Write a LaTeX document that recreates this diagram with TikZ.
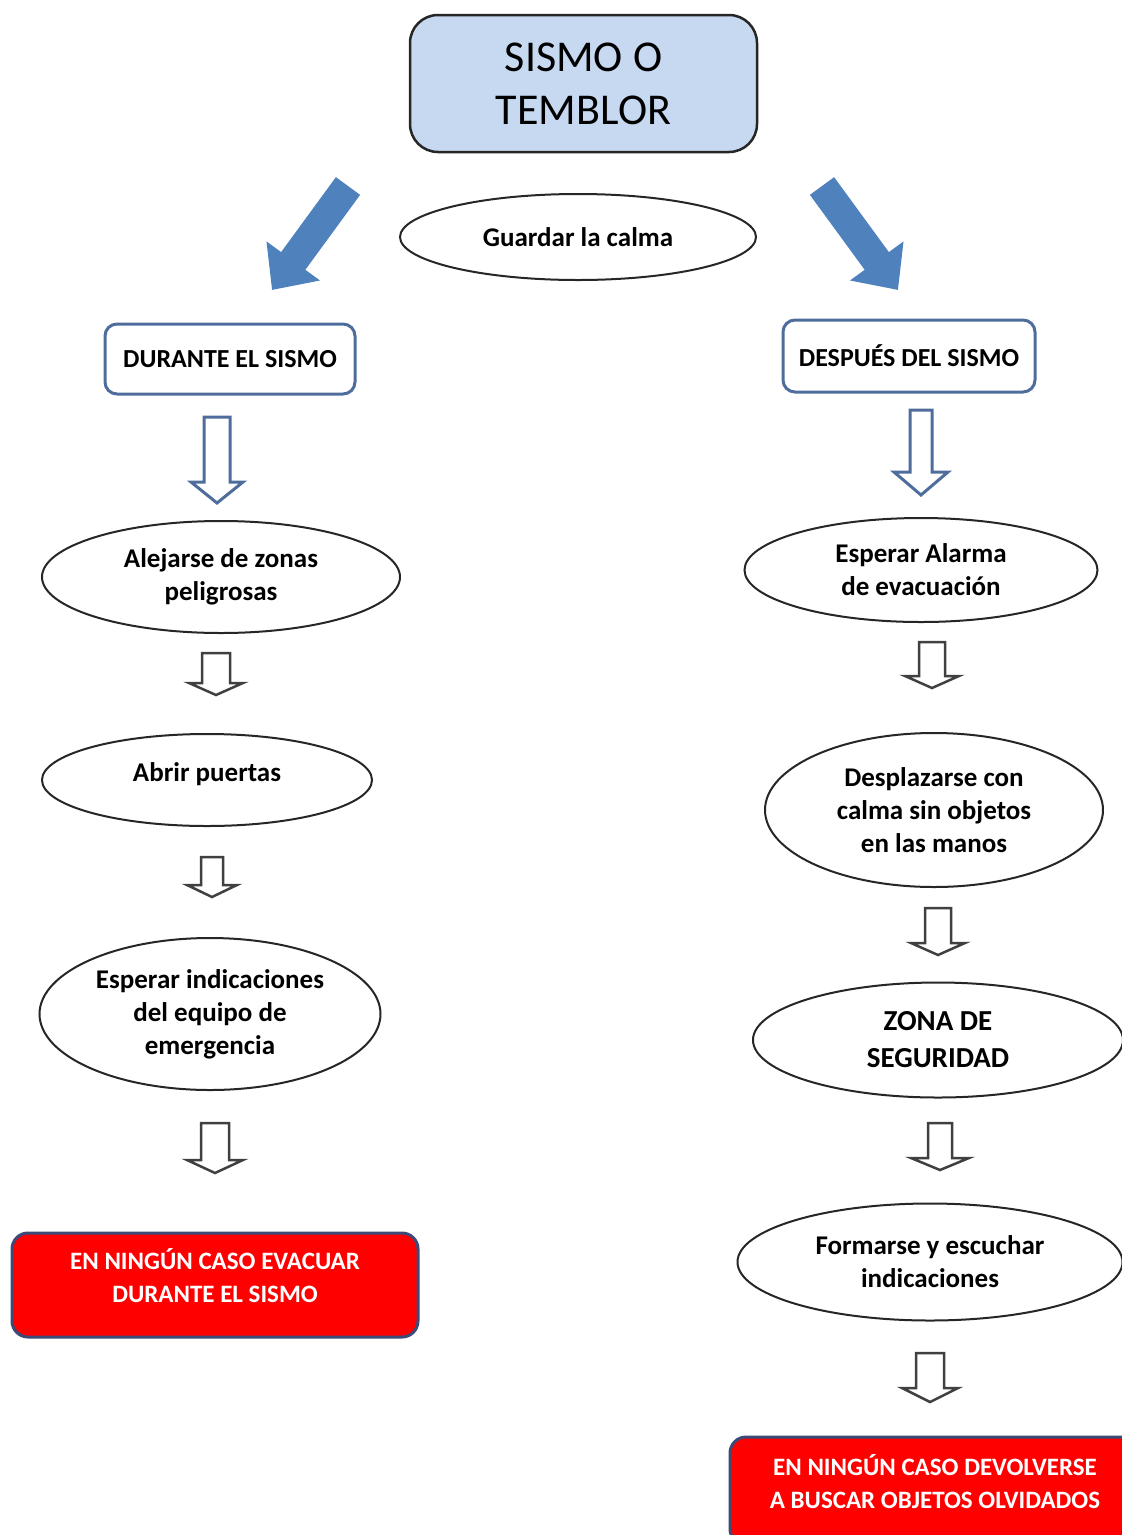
\documentclass[tikz,border=0pt]{standalone}
\usepackage{fontspec}
\setmainfont{Carlito}
\usetikzlibrary{shapes.geometric,arrows.meta}
\definecolor{titlefill}{HTML}{C6D9F1}
\definecolor{boxline}{HTML}{4F6D9C}
\definecolor{arrowblue}{HTML}{4F81BD}
\definecolor{redfill}{HTML}{FF0000}
\definecolor{redline}{HTML}{3C4A78}
\tikzset{
  oval/.style={ellipse,draw=black!85,line width=2pt,fill=white,align=center,inner sep=0pt,
    font=\fontsize{27}{33}\selectfont\bfseries},
  stage/.style={rectangle,rounded corners=12pt,draw=boxline,line width=3pt,align=center,
    inner sep=0pt,minimum width=250pt,minimum height=70pt,font=\fontsize{26}{33}\selectfont\bfseries},
  warn/.style={rectangle,rounded corners=16pt,draw=redline,fill=redfill,line width=3pt,text=white,
    align=center,inner sep=0pt,text depth=20pt,font=\fontsize{25}{33}\selectfont\bfseries},
  hollow/.style={draw=black!75,line width=2.5pt,fill=white,line join=miter},
  hollowblue/.style={draw=boxline,line width=3pt,fill=white,line join=miter},
  bigarrow/.style={arrowblue,line width=30pt,-{Triangle[width=64pt,length=36pt]}}
}
% hollow down arrow: x, top, head top, tip, half shaft, half head
\newcommand{\harrow}[7][hollow]{%
  \draw[#1] (#2-#6,#3) -- (#2+#6,#3) -- (#2+#6,#4) -- (#2+#7,#4) -- (#2,#5)
    -- (#2-#7,#4) -- (#2-#6,#4) -- cycle;}
\begin{document}
\begin{tikzpicture}[x=1pt,y=-1pt]
   \useasboundingbox (0,0) rectangle (1122,1535);
   \clip (0,0) rectangle (1122,1535);
   %title
   \node[rectangle,rounded corners=28pt,draw=black!85,line width=2.5pt,fill=titlefill,align=center,
     minimum width=347pt,minimum height=137pt,font=\fontsize{44}{53}\selectfont] (title)
     at (583.5,83.5) {SISMO O\\TEMBLOR};
   %blue arrows
   \coordinate (tailL) at (348,186);
   \coordinate (tipL) at (272,290);
   \coordinate (tailR) at (822,186);
   \coordinate (tipR) at (898,290);
   \draw[bigarrow] (tailL) -- (tipL);
   \draw[bigarrow] (tailR) -- (tipR);
   \node[oval,minimum width=356pt,minimum height=86pt] (calma) at (578,237) {Guardar la calma};
   %during
   \node[stage] (durante) at (230,359) {DURANTE EL SISMO};
   \harrow[hollowblue]{217}{417}{482}{503}{13}{26}
   \node[oval,minimum width=358pt,minimum height=112pt] (alejarse) at (221,577)
     {Alejarse de zonas\\peligrosas};
   \harrow{216}{653}{683}{695}{14}{27}
   \node[oval,minimum width=330pt,minimum height=92pt,text depth=16pt] (abrir) at (207,780) {Abrir puertas};
   \harrow{212}{857}{885}{897}{11}{25}
   \node[oval,minimum width=341pt,minimum height=152pt] (esperarind) at (210,1014)
     {Esperar indicaciones\\del equipo de\\emergencia};
   \harrow{215}{1123}{1160}{1173}{14}{28}
   \node[warn,minimum width=406pt,minimum height=104pt] (noevacuar) at (215,1285)
     {EN NINGÚN CASO EVACUAR\\DURANTE EL SISMO};
   %after
   \node[stage,minimum width=252pt,minimum height=72pt] (despues) at (909,356) {DESPUÉS DEL SISMO};
   \harrow[hollowblue]{921}{410}{472}{495}{11}{27}
   \node[oval,minimum width=353pt,minimum height=104pt] (alarma) at (921,570)
     {Esperar Alarma\\de evacuación};
   \harrow{932}{642}{676}{688}{13}{27}
   \node[oval,minimum width=338pt,minimum height=154pt] (desplazarse) at (934,810)
     {Desplazarse con\\calma sin objetos\\en las manos};
   \harrow{938}{908}{943}{955}{13}{27}
   \node[oval,minimum width=370pt,minimum height=115pt,font=\fontsize{29}{37}\selectfont\bfseries]
     (zona) at (938,1040) {ZONA DE\\SEGURIDAD};
   \harrow{940}{1123}{1158}{1170}{12}{29}
   \node[oval,minimum width=385pt,minimum height=117pt] (formarse) at (930,1262)
     {Formarse y escuchar\\indicaciones};
   \harrow{930}{1353}{1388}{1402}{14}{28}
   \node[warn,minimum width=410pt,minimum height=108pt] (nodevolver) at (935,1491)
     {EN NINGÚN CASO DEVOLVERSE\\A BUSCAR OBJETOS OLVIDADOS};
\end{tikzpicture}
\end{document}
